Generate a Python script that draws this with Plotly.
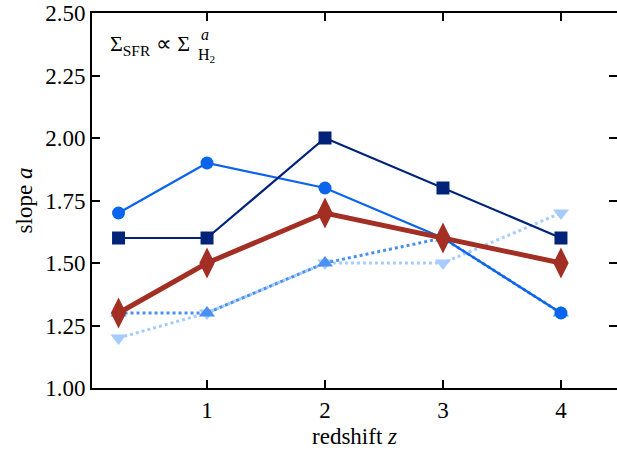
import plotly.graph_objects as go

z = [0.25, 1, 2, 3, 4]

slope_light = [1.2, 1.3, 1.5, 1.5, 1.7]    # light blue, dotted, down triangles
slope_mid = [1.3, 1.3, 1.5, 1.6, 1.3]      # mid blue, dotted, up triangles
slope_circ = [1.7, 1.9, 1.8, 1.6, 1.3]     # blue, circles
slope_sq = [1.6, 1.6, 2.0, 1.8, 1.6]       # navy, squares
slope_mean = [1.3, 1.5, 1.7, 1.6, 1.5]     # dark red, diamonds

xticks = [1, 2, 3, 4]
yticks = [1.0, 1.25, 1.5, 1.75, 2.0, 2.25, 2.5]

fig = go.Figure()

fig.add_trace(go.Scatter(x=z, y=slope_light, mode="lines+markers",
                         line=dict(color="#a6ccff", width=3, dash="dot"),
                         marker=dict(symbol="triangle-down", size=14, color="#a6ccff")))
fig.add_trace(go.Scatter(x=z, y=slope_mid, mode="lines+markers",
                         line=dict(color="#4a90f0", width=3, dash="dot"),
                         marker=dict(symbol="triangle-up", size=14, color="#4a90f0")))
fig.add_trace(go.Scatter(x=z, y=slope_circ, mode="lines+markers",
                         line=dict(color="#0a64ec", width=2.2),
                         marker=dict(symbol="circle", size=13, color="#0a64ec")))
fig.add_trace(go.Scatter(x=z, y=slope_sq, mode="lines+markers",
                         line=dict(color="#00237a", width=2.2),
                         marker=dict(symbol="square", size=13, color="#00237a")))
fig.add_trace(go.Scatter(x=z, y=slope_mean, mode="lines+markers",
                         line=dict(color="#a32e24", width=5),
                         marker=dict(symbol="diamond-tall", size=22, color="#a32e24")))

font = "Liberation Serif, Times New Roman, serif"

# formula label in the upper left corner, with stacked super/subscript
fig.add_annotation(xref="paper", yref="paper", x=0.030, y=0.915, xanchor="left", yanchor="middle",
                   text="Σ<sub>SFR</sub> ∝ Σ", showarrow=False, font=dict(family=font, size=22, color="black"))
fig.add_annotation(xref="paper", yref="paper", x=0.204, y=0.942, xanchor="left", yanchor="middle",
                   text="<i>a</i>", showarrow=False, font=dict(family=font, size=16, color="black"))
fig.add_annotation(xref="paper", yref="paper", x=0.198, y=0.886, xanchor="left", yanchor="middle",
                   text="H<sub>2</sub>", showarrow=False, font=dict(family=font, size=16, color="black"))

fig.update_xaxes(range=[0.025, 4.475], tickvals=xticks, ticktext=[str(t) for t in xticks],
                 ticks="inside", ticklen=8, tickwidth=1.5, tickcolor="black",
                 showline=True, linecolor="black", linewidth=2, mirror="ticks",
                 showgrid=False, zeroline=False, automargin=False, ticklabeloverflow="allow",
                 title=dict(text="redshift <i>z</i>", font=dict(family=font, size=23), standoff=6),
                 tickfont=dict(family=font, size=23, color="black"))
fig.update_yaxes(range=[1.0, 2.5], tickvals=yticks, ticktext=["%.2f" % t for t in yticks],
                 ticks="inside", ticklen=8, tickwidth=1.5, tickcolor="black",
                 showline=True, linecolor="black", linewidth=2, mirror="ticks",
                 showgrid=False, zeroline=False, automargin=False, ticklabeloverflow="allow",
                 title=dict(text="slope <i>a</i>", font=dict(family=font, size=23), standoff=6),
                 tickfont=dict(family=font, size=23, color="black"))

fig.update_layout(width=617, height=454, showlegend=False,
                  plot_bgcolor="white", paper_bgcolor="white",
                  margin=dict(l=92, r=0, t=13, b=66),
                  font=dict(family=font, color="black"))

# drop the default body margin so the figure fills the window exactly
fig.write_html("out.html", config={"displayModeBar": False},
               post_script="document.body.style.margin='0';")
